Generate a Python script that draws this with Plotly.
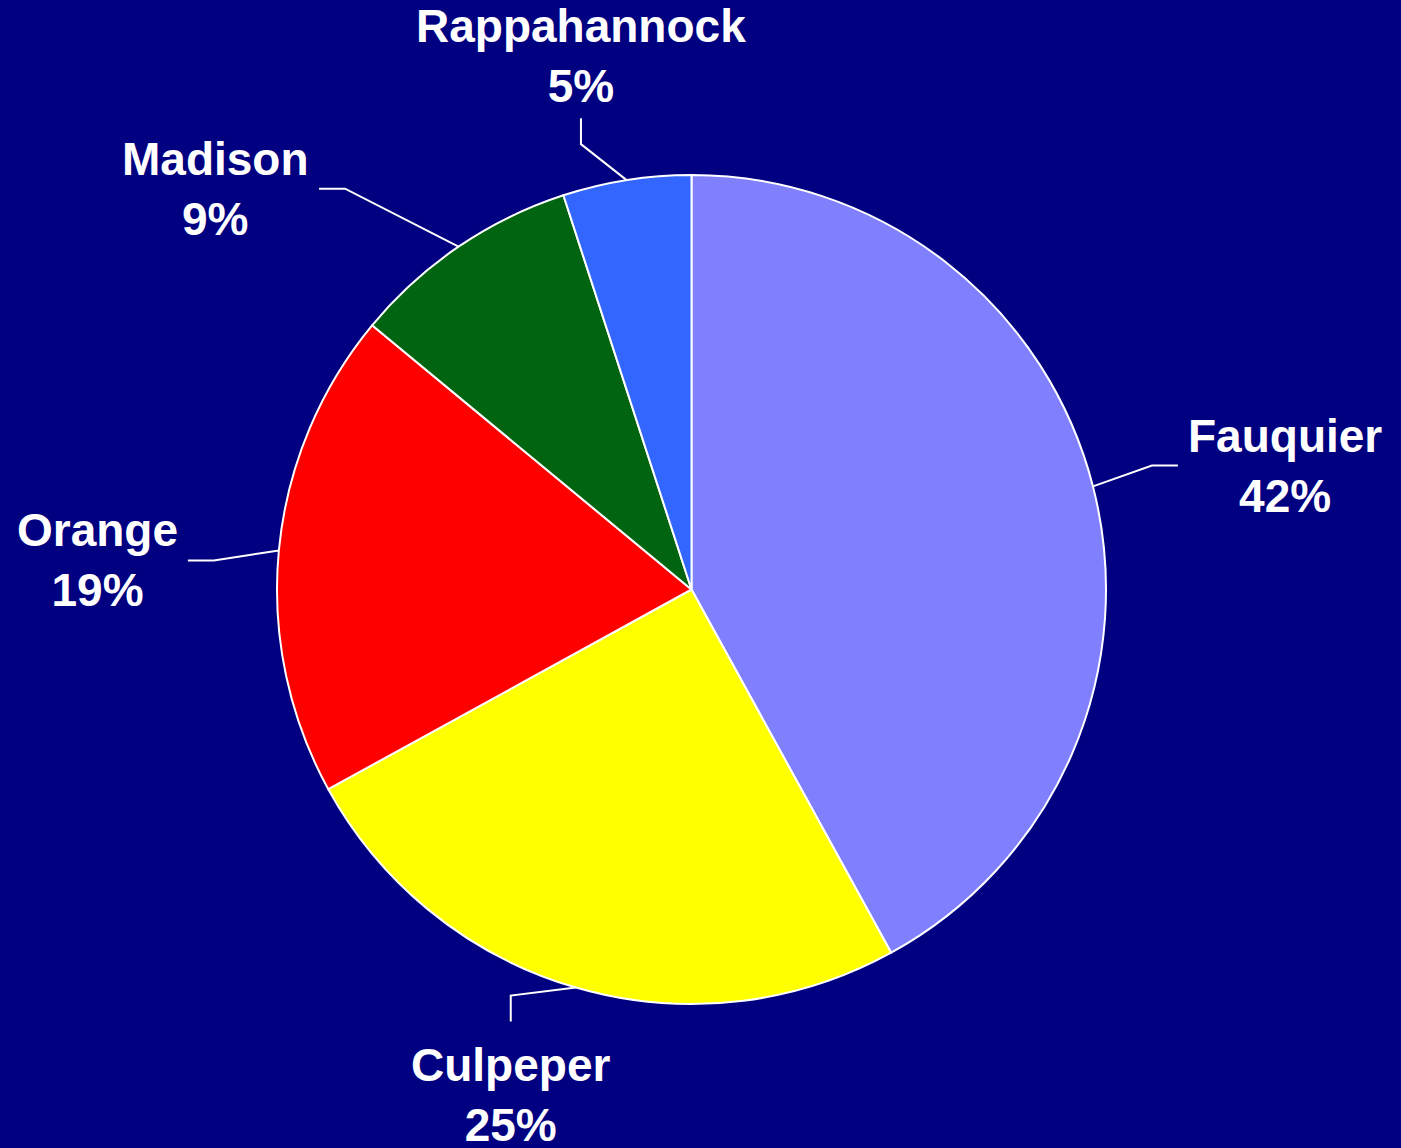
import math
import plotly.graph_objects as go

# ---- data ----
counties = ["Fauquier", "Culpeper", "Orange", "Madison", "Rappahannock"]
shares = [42, 25, 19, 9, 5]
colors = ["#8080FF", "#FFFF00", "#FF0000", "#006411", "#3366FF"]

# ---- layout constants ----
W, H = 1401, 1148
CX, CY, R = 691.5, 589.5, 414.5          # pie centre / radius in px
# leader end: (radius factor, angle shift from slice mid-angle, side)
leader_cfg = {
    "Fauquier": (1.211, 0.1, "right"),
    "Culpeper": (1.13, 6.5, "bottom"),
    "Orange": (1.217, -2.1, "left"),
    "Madison": (1.32, -8.7, "left"),
    "Rappahannock": (1.168, -4.2, "top"),
}
SEG = 26       # length of the straight segment next to the label
GAP = 8        # gap between leader end and text
VOFF = {"top": 62, "bottom": 73}

def px_to_paper(x, y):
    return x / W, 1 - y / H

def polar(r, ang):
    a = math.radians(ang)
    return CX + r * math.sin(a), CY - r * math.cos(a)

fig = go.Figure(go.Pie(
    labels=counties, values=shares, sort=False, direction="clockwise",
    rotation=0, textinfo="none", hoverinfo="none",
    marker=dict(colors=colors, line=dict(color="white", width=2)),
    domain=dict(x=[(CX - R) / W, (CX + R) / W],
                y=[(H - CY - R) / H, (H - CY + R) / H]),
    showlegend=False,
))

total = sum(shares)
cum = 0
shapes, annotations = [], []
for name, v in zip(counties, shares):
    mid = (cum + v / 2) / total * 360
    cum += v
    rf, dang, side = leader_cfg[name]
    ax_, ay_ = polar(R, mid)
    cx_, cy_ = polar(R * rf, mid + dang)
    if side == "right":
        bx, by = cx_ - SEG, cy_
        tx, ty, xa, ya = cx_ + GAP, cy_, "left", "middle"
    elif side == "left":
        bx, by = cx_ + SEG, cy_
        tx, ty, xa, ya = cx_ - GAP, cy_, "right", "middle"
    elif side == "top":
        bx, by = cx_, cy_ + SEG
        tx, ty, xa, ya = cx_, cy_ - VOFF["top"], "center", "middle"
    else:
        bx, by = cx_, cy_ - SEG
        tx, ty, xa, ya = cx_, cy_ + VOFF["bottom"], "center", "middle"
    p = [px_to_paper(*q) for q in [(ax_, ay_), (bx, by), (cx_, cy_)]]
    path = "M {:.5f} {:.5f} L {:.5f} {:.5f} L {:.5f} {:.5f}".format(
        p[0][0], p[0][1], p[1][0], p[1][1], p[2][0], p[2][1])
    shapes.append(dict(type="path", path=path, xref="paper", yref="paper",
                       line=dict(color="white", width=2)))
    lx, ly = px_to_paper(tx, ty)
    annotations.append(dict(
        x=lx, y=ly, xref="paper", yref="paper", xanchor=xa, yanchor=ya,
        text=f"<b>{name}<br>{v}%</b>", showarrow=False, align="center",
        font=dict(family="Liberation Sans, Arial, sans-serif", size=46,
                  color="white")))

fig.update_layout(
    width=W, height=H, margin=dict(l=0, r=0, t=0, b=0),
    paper_bgcolor="#000080", plot_bgcolor="#000080",
    shapes=shapes, annotations=annotations,
)
fig.write_html(
    "out.html",
    config={"displayModeBar": False},
    post_script="document.body.style.margin='0';"
                "document.body.style.background='#000080';"
                "document.body.style.overflow='hidden';",
)
